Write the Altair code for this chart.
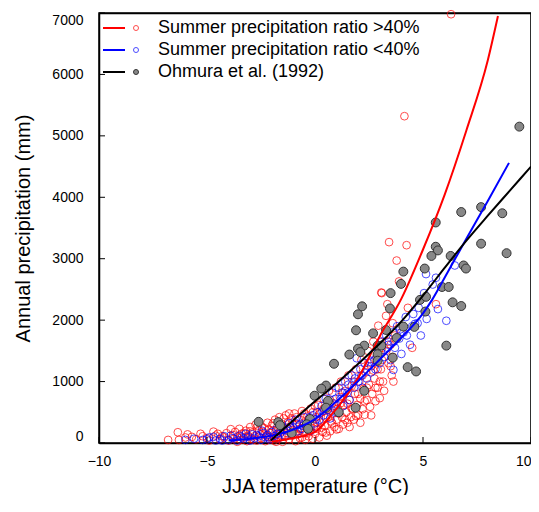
import altair as alt
import pandas as pd

# ---- data ----
red_x = [-6.8,-6.35,-6.3,-6.0,-5.9,-5.7,-5.5,-5.3,-5.2,-5.0,-4.9,-4.7,-4.6,-4.5,-4.4,-4.3,-4.2,-4.1,-4.0,-3.9,
         -3.8,-3.75,-3.7,-3.6,-3.5,-3.45,-3.4,-3.3,-3.2,-3.15,-3.1,-3.0,-2.95,-2.9,-2.8,-2.75,-2.7,-2.6,-2.55,-2.5,
         -2.45,-2.4,-2.3,-2.25,-2.2,-2.15,-2.1,-2.05,-2.0,-2.0,
         -1.95,-1.9,-1.85,-1.8,-1.75,-1.7,-1.65,-1.6,-1.55,-1.5,-1.45,-1.4,-1.35,-1.3,-1.25,-1.2,-1.15,-1.1,-1.05,-1.0,
         -0.95,-0.9,-0.85,-0.8,-0.75,-0.7,-0.65,-0.6,-0.55,-0.5,-0.45,-0.4,-0.35,-0.3,-0.25,-0.2,-0.15,-0.1,-0.05,0.0,
         0.05,0.1,0.15,0.2,0.25,0.3,0.35,0.4,0.45,0.5,0.55,0.6,0.65,0.7,0.75,0.8,0.85,0.9,0.95,1.0,
         1.05,1.1,1.15,1.2,1.25,1.3,1.35,1.4,1.45,1.5,1.55,1.6,1.65,1.7,1.75,1.8,1.85,1.9,1.95,2.0,
         2.05,2.1,2.15,2.2,2.25,2.3,2.35,2.4,2.45,2.5,2.55,2.6,2.65,2.7,2.75,2.8,2.85,2.9,2.93,3.0,
         3.05,3.07,3.1,3.15,3.2,3.29,3.35,3.4,3.43,3.5,3.55,3.6,3.63,3.09,
         3.78,3.89,4.14,4.24,4.0,4.3,4.5,5.6,6.3,
         -3.6,-3.3,-3.0,-2.85,-2.65,-2.35,-2.2,-1.95,-1.8,-1.7,-1.55,-1.45,-1.3,-1.2,-1.05,-0.95,-0.85,-0.7,-0.6,-0.5,
         -0.4,-0.3,-0.2,-0.1,0.0,0.1,0.2,0.3,0.4,0.5,0.6,0.7,0.8,0.9,1.0,1.1,1.2,1.3,1.4,1.5,
         1.6,1.7,1.8,1.9,2.0,2.1,2.2,2.3,2.4,2.5,2.6,2.7,2.8,2.9,3.0,3.1,3.2,3.3,3.4,3.5,3.6,3.7]
red_y = [50,175,50,90,140,100,60,150,110,80,40,185,120,150,60,110,90,160,40,225,
         130,70,180,100,230,50,150,90,200,30,120,260,70,170,110,300,40,210,140,80,
         260,180,30,120,330,220,60,160,280,90,
         200,40,380,130,260,70,420,180,310,20,230,100,450,160,340,60,260,400,120,200,
         480,30,300,140,380,80,240,520,170,330,50,260,430,110,200,560,350,70,280,150,
         420,230,620,90,330,500,180,720,280,410,120,560,850,190,350,650,480,260,900,380,
         560,230,750,1000,420,300,620,850,500,330,1100,700,420,930,560,380,800,1200,620,460,
         1000,720,1350,550,880,460,1150,700,1500,950,590,1250,800,1650,1050,680,1400,900,1910,730,
         1200,2450,1550,1000,1750,2070,2260,1300,3270,1600,1100,1950,1000,2440,
         2970,2630,5320,3220,1800,2200,1550,2260,6980,
         20,160,190,50,280,240,100,320,20,350,120,400,250,480,330,150,420,230,90,480,
         160,390,250,500,600,330,470,250,560,170,420,700,320,560,220,480,650,820,380,640,
         260,560,1000,440,800,330,1100,680,900,1300,450,1180,900,1200,1000,1350,850,1500,1650,1250,1400,1750]

blue_x = [-6.0,-5.6,-5.2,-4.9,-4.6,-4.4,-4.2,-4.0,-3.8,-3.6,-3.5,-3.3,-3.1,-3.0,-2.9,-2.8,-2.6,-2.5,-2.4,-2.3,-2.2,-2.1,-2.0,
          -1.9,-1.8,-1.7,-1.6,-1.5,-1.4,-1.3,-1.2,-1.1,-1.0,-0.9,-0.8,-0.7,-0.6,-0.5,-0.4,-0.3,-0.2,-0.1,0.0,
          0.1,0.2,0.3,0.4,0.5,0.6,0.7,0.8,0.9,1.0,1.1,1.2,1.3,1.4,1.5,1.6,1.7,1.8,1.93,2.0,
          2.1,2.2,2.3,2.4,2.55,2.6,2.7,2.8,2.9,3.0,3.1,3.2,3.3,3.4,3.5,3.6,3.63,3.7,3.8,3.9,4.0,
          4.1,4.2,4.4,4.5,4.63,4.8,5.05,5.14,5.17,5.45,5.6,5.69,6.08,6.47,4.9,
          -5.0,-4.7,-4.3,-3.9,-3.4,-3.2,-2.7,-2.45,-2.15,-1.75,-1.45,-1.15,-0.85,-0.55,-0.25,0.05,
          0.35,0.65,0.95,1.25,1.55,1.85,2.15,2.45,2.75,3.05,3.35,3.65,3.95,4.25,4.55,4.75]
blue_y = [50,70,50,90,40,70,110,50,80,40,120,70,100,40,140,80,110,50,160,90,130,60,180,
          110,220,80,160,270,120,200,320,150,250,380,190,300,230,420,280,360,200,450,320,
          500,380,600,450,720,540,400,820,640,500,900,720,600,1000,820,700,1100,900,1380,1000,
          1200,900,1300,1050,1320,1150,1450,1200,1550,1300,1650,1400,1750,1600,1350,1800,1190,1550,1900,1700,1450,
          1800,2050,1600,1900,1940,2200,2440,2750,2020,2580,2690,2180,1990,2890,1750,
          60,100,40,120,90,150,130,200,90,150,210,260,320,280,420,380,
          520,600,720,820,950,1050,1100,1250,1350,1480,1550,1650,1850,1750,2100,1950]

gray_x = [9.46,6.77,7.69,8.67,7.69,8.87,5.59,5.59,5.69,5.39,6.28,6.88,6.99,5.08,5.88,6.19,6.37,6.77,6.08,4.86,
          5.14,5.11,4.09,3.98,3.50,3.47,2.18,1.99,1.90,2.69,3.29,4.09,4.60,3.78,2.90,3.07,2.28,1.99,2.10,1.59,
          2.90,2.90,3.60,0.88,4.29,4.68,0.51,0.29,2.28,0.60,0.51,1.88,1.10,-0.23,-0.38,-0.32,-2.61,-1.70,-1.62,-1.08,
          -0.02]
gray_y = [5150,3760,3840,3740,3245,3090,3590,3195,3135,3045,3045,2890,2840,2840,2540,2540,2290,2230,1585,2330,
          2380,2140,2790,2590,2440,2190,2225,2095,1835,1785,1840,1895,1890,1710,1585,1585,1585,1535,1480,1440,
          1445,1340,1390,1290,1235,1165,935,885,850,685,575,575,500,390,305,230,345,340,290,160,
          770]

red_curve_x = [-2, -1, 0, 0.83, 1, 2, 3, 4, 5, 6, 7, 8, 8.47]
red_curve_y = [20, 80, 180, 490, 560, 1060, 1740, 2350, 3150, 4040, 5080, 6230, 6950]
blue_curve_x = [-4, -3, -2, -1, 0, 1, 2, 3, 3.9, 5, 5.42, 6, 7, 8, 8.98]
blue_curve_y = [40, 70, 120, 220, 390, 680, 1010, 1360, 1680, 2110, 2330, 2690, 3320, 3940, 4560]
black_curve_x = [-2.05, -1, 0, 1, 2, 3, 4, 5, 6, 7, 8, 9, 10]
black_curve_y = [40, 370, 680, 970, 1290, 1620, 1980, 2400, 2850, 3290, 3700, 4100, 4500]

x_ticks = [-10, -5, 0, 5, 10]
y_ticks = [0, 1000, 2000, 3000, 4000, 5000, 6000, 7000]
legend_labels = ["Summer precipitation ratio >40%", "Summer precipitation ratio <40%", "Ohmura et al. (1992)"]

FONT = "Liberation Sans"
W, H = 432, 430

xscale = alt.Scale(domain=[-10, 10], nice=False, zero=False, padding=0)
yscale = alt.Scale(domain=[0, 7000], nice=False, padding=0)
xaxis = alt.Axis(values=x_ticks, title="JJA temperature (°C)", grid=False, ticks=False, tickSize=0,
                 labelPadding=11, titlePadding=8, labelFontSize=14, titleFontSize=20, labelFlush=False,
                 labelAlign={"condition": {"test": "datum.value == 10", "value": "right"}, "value": "center"},
                 domainColor="black", domainWidth=1.5, labelColor="black", titleColor="black",
                 titleFontWeight="normal", labelFont=FONT, titleFont=FONT, format="d")
yaxis = alt.Axis(values=y_ticks, title="Annual precipitation (mm)", grid=False, ticks=False, tickSize=0,
                 labelPadding=16, titlePadding=18, labelFontSize=14, titleFontSize=20, labelFlush=True,
                 domainColor="black", domainWidth=1.5, labelColor="black", titleColor="black",
                 titleFontWeight="normal", labelFont=FONT, titleFont=FONT, format="d")

red_df = pd.DataFrame({"x": red_x, "y": red_y})
blue_df = pd.DataFrame({"x": blue_x, "y": blue_y})
gray_df = pd.DataFrame({"x": gray_x, "y": gray_y})

red_pts = alt.Chart(red_df).mark_point(shape="circle", filled=False, color="#ff0000", size=60, strokeWidth=1).encode(
    x=alt.X("x:Q", scale=xscale, axis=xaxis), y=alt.Y("y:Q", scale=yscale, axis=yaxis))
blue_pts = alt.Chart(blue_df).mark_point(shape="circle", filled=False, color="#0000ff", size=60, strokeWidth=1).encode(
    x=alt.X("x:Q", scale=xscale), y=alt.Y("y:Q", scale=yscale))
gray_pts = alt.Chart(gray_df).mark_point(shape="circle", filled=True, fill="#888888", stroke="#333333",
                                         size=80, strokeWidth=1, opacity=1).encode(
    x=alt.X("x:Q", scale=xscale), y=alt.Y("y:Q", scale=yscale))

def curve(xs, ys, color):
    return alt.Chart(pd.DataFrame({"x": xs, "y": ys})).mark_line(color=color, strokeWidth=2, interpolate="monotone").encode(
        x=alt.X("x:Q", scale=xscale), y=alt.Y("y:Q", scale=yscale))

red_line = curve(red_curve_x, red_curve_y, "#ff0000")
blue_line = curve(blue_curve_x, blue_curve_y, "#0000ff")
black_line = curve(black_curve_x, black_curve_y, "#000000")

xt = alt.Chart(pd.DataFrame({"t": x_ticks})).mark_rule(color="black", strokeWidth=1).encode(
    x=alt.X("t:Q", scale=xscale), y=alt.value(H), y2=alt.value(H - 6))
yt = alt.Chart(pd.DataFrame({"t": y_ticks})).mark_rule(color="black", strokeWidth=1).encode(
    y=alt.Y("t:Q", scale=yscale), x=alt.value(0), x2=alt.value(6))

# legend (manual, inside plot, top-left)
leg_colors = ["#ff0000", "#0000ff", "#000000"]
leg_layers = []
for i, (lab, col) in enumerate(zip(legend_labels, leg_colors)):
    yy = 15 + i * 22
    d = pd.DataFrame({"label": [lab]})
    leg_layers.append(alt.Chart(d).mark_rule(color=col, strokeWidth=2).encode(
        x=alt.value(4), x2=alt.value(26), y=alt.value(yy)))
    if i < 2:
        leg_layers.append(alt.Chart(d).mark_point(shape="circle", filled=False, color=col, size=25, strokeWidth=1).encode(
            x=alt.value(37), y=alt.value(yy)))
    else:
        leg_layers.append(alt.Chart(d).mark_point(shape="circle", filled=True, fill="#888888", stroke="#333333",
                                                  size=25, strokeWidth=1, opacity=1).encode(
            x=alt.value(37), y=alt.value(yy)))
    leg_layers.append(alt.Chart(d).mark_text(align="left", baseline="middle", fontSize=18, font=FONT, color="black").encode(
        x=alt.value(59), y=alt.value(yy), text="label:N"))

main = alt.layer(red_pts, blue_pts, gray_pts, red_line, blue_line, black_line, xt, yt, *leg_layers)

# top and right edges of the box, drawn as axis domains on the same scales
frame_axis_x = alt.Axis(orient="top", labels=False, ticks=False, grid=False, title="",
                        domainColor="black", domainWidth=1.5)
frame_axis_y = alt.Axis(orient="right", labels=False, ticks=False, grid=False, title="",
                        domainColor="black", domainWidth=1.5)
frame = alt.Chart(pd.DataFrame({"fx": [0], "fy": [0]})).mark_point(opacity=0).encode(
    x=alt.X("fx:Q", scale=xscale, axis=frame_axis_x), y=alt.Y("fy:Q", scale=yscale, axis=frame_axis_y))

chart = alt.layer(main, frame).resolve_axis(x="independent", y="independent").properties(
    width=W, height=H,
    padding={"left": 91, "top": 5, "right": 0, "bottom": 52},
    autosize=alt.AutoSizeParams(type="none"),
    background="white",
).configure_view(stroke="black", strokeWidth=1.5)

chart.save("out.html", embed_options={"renderer": "svg", "actions": False})
